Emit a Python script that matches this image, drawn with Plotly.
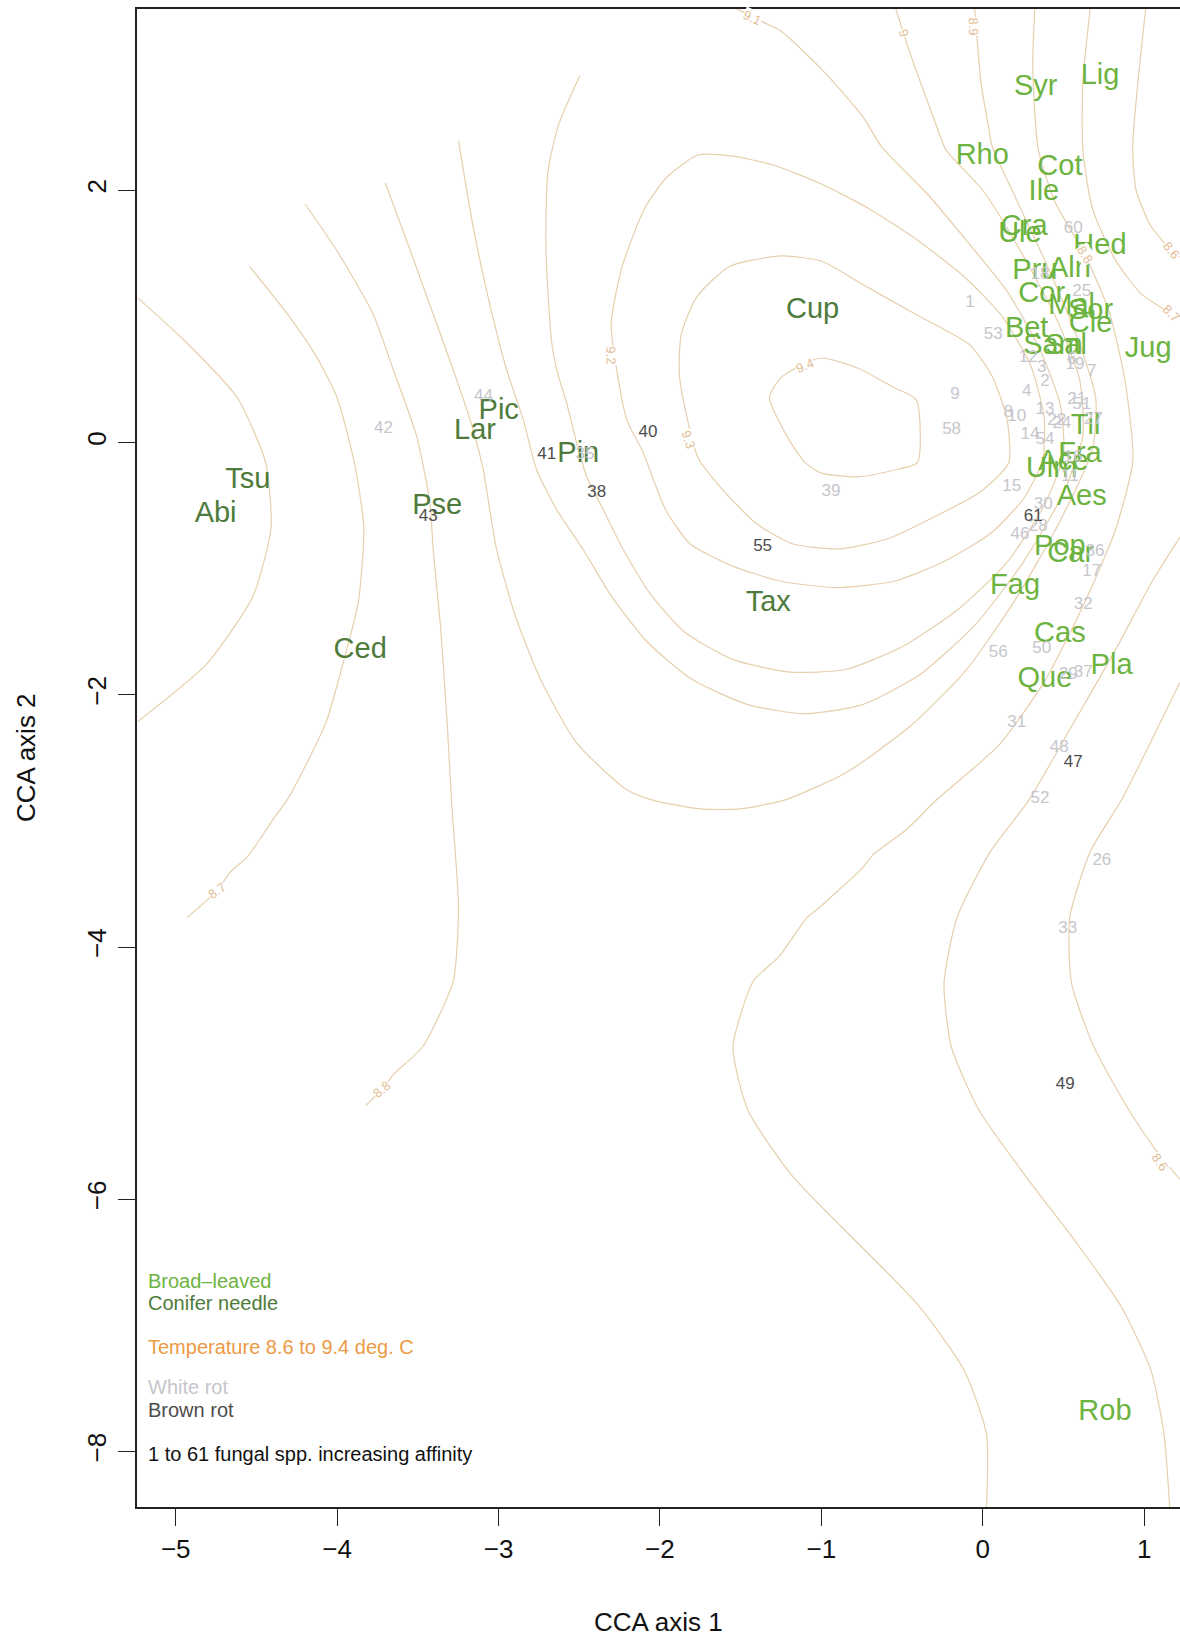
import plotly.graph_objects as go

FONT = "Liberation Sans, Arial, Helvetica, sans-serif"

# ---- host tree genera (CCA scores) ----
broad_labels = ["Syr", "Lig", "Rho", "Cot", "Ile", "Cra", "Ule", "Hed", "Pru", "Aln",
                "Cor", "Mal", "Sor", "Cle", "Bet", "Sam", "Sal", "Jug", "Til", "Fra",
                "Ace", "Ulm", "Aes", "Pop", "Car", "Fag", "Cas", "Que", "Pla", "Rob"]
broad_x = [0.328, 0.727, -0.003, 0.478, 0.379, 0.257, 0.230, 0.726, 0.323, 0.540,
           0.365, 0.551, 0.668, 0.668, 0.272, 0.435, 0.515, 1.025, 0.637, 0.602,
           0.499, 0.427, 0.613, 0.478, 0.545, 0.200, 0.478, 0.385, 0.798, 0.757]
broad_y = [2.814, 2.897, 2.269, 2.177, 1.979, 1.701, 1.648, 1.555, 1.357, 1.370,
           1.172, 1.079, 1.040, 0.934, 0.895, 0.762, 0.762, 0.736, 0.128, -0.097,
           -0.163, -0.216, -0.440, -0.837, -0.890, -1.141, -1.524, -1.881, -1.776, -7.689]

conifer_labels = ["Tsu", "Abi", "Ced", "Pse", "Lar", "Pic", "Pin", "Cup", "Tax"]
conifer_x = [-4.554, -4.753, -3.857, -3.380, -3.146, -2.999, -2.506, -1.054, -1.329]
conifer_y = [-0.305, -0.574, -1.653, -0.507, 0.088, 0.247, -0.097, 1.043, -1.279]

# ---- fungal species (CCA scores) ----
white_labels = ["1", "53", "60", "18", "25", "12", "3", "6", "19", "7", "2", "9", "4",
                "21", "51", "8", "10", "13", "27", "22", "24", "58", "14", "54", "16",
                "11", "15", "30", "28", "46", "36", "17", "32", "56", "50", "29", "37",
                "31", "48", "52", "26", "33", "39", "42", "44", "35"]
white_x = [-0.079, 0.065, 0.561, 0.354, 0.613, 0.282, 0.365, 0.551, 0.571, 0.675, 0.385,
           -0.172, 0.272, 0.582, 0.613, 0.158, 0.210, 0.385, 0.685, 0.458, 0.490, -0.193,
           0.292, 0.385, 0.559, 0.540, 0.179, 0.375, 0.344, 0.230, 0.695, 0.675, 0.623,
           0.096, 0.365, 0.530, 0.623, 0.210, 0.474, 0.354, 0.738, 0.527, -0.940, -3.713,
           -3.093, -2.464]
white_y = [1.106, 0.855, 1.693, 1.331, 1.198, 0.670, 0.591, 0.657, 0.617, 0.564, 0.485,
           0.379, 0.405, 0.339, 0.300, 0.234, 0.207, 0.260, 0.181, 0.170, 0.150, 0.102,
           0.062, 0.022, -0.121, -0.269, -0.348, -0.493, -0.665, -0.731, -0.864, -1.022,
           -1.286, -1.669, -1.638, -1.841, -1.823, -2.224, -2.423, -2.827, -3.318, -3.857,
           -0.388, 0.110, 0.359, -0.097]

brown_labels = ["40", "41", "38", "43", "55", "61", "47", "49"]
brown_x = [-2.074, -2.702, -2.392, -3.436, -1.364, 0.313, 0.561, 0.511]
brown_y = [0.077, -0.097, -0.401, -0.586, -0.823, -0.586, -2.542, -5.089]

# ---- temperature surface isolines (deg. C) ----
iso_94 = [(-1.322, 0.359), (-1.249, 0.516), (-1.134, 0.608), (-0.997, 0.670), (-0.768, 0.587),
          (-0.561, 0.442), (-0.412, 0.338), (-0.405, -0.160), (-0.561, -0.222), (-0.768, -0.272),
          (-0.997, -0.243), (-1.100, -0.160), (-1.203, 0.027), (-1.322, 0.359)]
iso_93 = [(-1.765, -0.118), (-1.879, 0.525), (-1.868, 0.857), (-1.776, 1.147), (-1.570, 1.396),
          (-1.249, 1.479), (-0.997, 1.437), (-0.768, 1.271), (-0.424, 1.022), (-0.080, 0.774),
          (0.058, 0.525), (0.149, 0.193), (0.161, -0.160), (-0.011, -0.388), (-0.309, -0.595),
          (-0.584, -0.761), (-0.882, -0.844), (-1.180, -0.803), (-1.409, -0.637), (-1.616, -0.367),
          (-1.765, -0.118)]
iso_92 = [(-1.765, 2.279), (-1.959, 2.101), (-2.097, 1.852), (-2.234, 1.396), (-2.303, 0.939),
          (-2.268, 0.577), (-2.206, 0.181), (-2.103, -0.083), (-1.965, -0.533), (-1.814, -0.803),
          (-1.55, -0.98), (-1.25, -1.10), (-0.90, -1.15), (-0.55, -1.10), (-0.25, -0.95),
          (0.05, -0.72), (0.25, -0.45), (0.37, -0.15), (0.38, 0.20), (0.30, 0.60), (0.12, 1.00),
          (-0.12, 1.32), (-0.40, 1.60), (-0.70, 1.85), (-1.00, 2.05), (-1.30, 2.20), (-1.55, 2.27),
          (-1.765, 2.279)]
iso_91 = [(-2.496, 2.910), (-2.629, 2.516), (-2.695, 2.142), (-2.706, 1.520), (-2.673, 0.815),
          (-2.640, 0.577), (-2.578, 0.313), (-2.516, -0.004), (-2.454, -0.269), (-2.351, -0.533),
          (-2.227, -0.850), (-2.06, -1.20), (-1.85, -1.50), (-1.55, -1.72), (-1.20, -1.82),
          (-0.85, -1.80), (-0.50, -1.62), (-0.15, -1.32), (0.15, -0.95), (0.38, -0.50),
          (0.50, -0.10), (0.48, 0.30), (0.35, 0.75), (0.15, 1.20), (-0.10, 1.60), (-0.35, 1.98),
          (-0.629, 2.348), (-0.744, 2.586), (-0.996, 2.956), (-1.248, 3.260), (-1.329, 3.313),
          (-1.523, 3.437)]
iso_90 = [(-3.248, 2.391), (-3.160, 1.728), (-3.071, 1.188), (-2.950, 0.577), (-2.847, 0.181),
          (-2.764, -0.216), (-2.640, -0.533), (-2.475, -0.850), (-2.30, -1.22), (-2.08, -1.58),
          (-1.80, -1.88), (-1.45, -2.08), (-1.10, -2.15), (-0.75, -2.08), (-0.40, -1.85),
          (-0.05, -1.45), (0.25, -0.95), (0.50, -0.40), (0.62, 0.05), (0.60, 0.50), (0.45, 1.00),
          (0.22, 1.55), (0.00, 2.00), (-0.229, 2.322), (-0.286, 2.507), (-0.377, 2.824),
          (-0.458, 3.115), (-0.538, 3.437)]
iso_89 = [(-3.702, 2.059), (-3.558, 1.562), (-3.42, 1.07), (-3.281, 0.577), (-3.157, 0.101),
          (-3.095, -0.216), (-3.012, -0.850), (-2.894, -1.383), (-2.739, -1.881), (-2.518, -2.379),
          (-2.208, -2.752), (-2.051, -2.833), (-1.753, -2.905), (-1.501, -2.905), (-1.226, -2.833),
          (-0.85, -2.62), (-0.45, -2.25), (-0.10, -1.80), (0.20, -1.25), (0.48, -0.62),
          (0.68, -0.05), (0.70, 0.35), (0.58, 0.85), (0.40, 1.40), (0.20, 1.95), (0.058, 2.348),
          (0.035, 2.507), (-0.011, 2.851), (-0.033, 3.168), (-0.05, 3.437)]
iso_88_west = [(-4.200, 1.893), (-4.001, 1.520), (-3.779, 1.023), (-3.652, 0.577), (-3.507, 0.048),
               (-3.425, -0.480), (-3.405, -0.850), (-3.359, -1.466), (-3.315, -2.296),
               (-3.292, -2.833), (-3.248, -3.695), (-3.281, -4.270), (-3.470, -4.791),
               (-3.647, -5.006), (-3.724, -5.132), (-3.824, -5.258)]
iso_88_east = [(0.322, 3.437), (0.310, 2.983), (0.344, 2.322), (0.45, 1.90), (0.633, 1.489),
               (0.78, 1.05), (0.88, 0.50), (0.93, -0.14), (0.82, -0.70), (0.62, -1.30),
               (0.38, -1.90), (0.10, -2.40), (-0.286, -2.833), (-0.470, -3.066), (-0.676, -3.264),
               (-0.745, -3.372), (-1.020, -3.695), (-1.089, -3.767), (-1.260, -4.072),
               (-1.421, -4.270), (-1.547, -4.791), (-1.455, -5.294), (-1.180, -5.814),
               (-0.401, -6.838), (-0.114, -7.359), (0.023, -7.862), (0.023, -8.44)]
iso_87_west = [(-4.543, 1.396), (-4.310, 1.022), (-4.133, 0.691), (-4.001, 0.359), (-3.890, -0.180),
               (-3.835, -0.678), (-3.868, -1.259), (-3.956, -1.715), (-4.067, -2.213),
               (-4.222, -2.628), (-4.310, -2.833), (-4.399, -2.992), (-4.554, -3.282),
               (-4.664, -3.408), (-4.742, -3.551), (-4.930, -3.767)]
iso_87_ne = [(0.665, 3.437), (0.620, 2.851), (0.620, 2.322), (0.68, 1.85), (0.82, 1.45),
             (0.98, 1.18), (1.169, 1.022), (1.222, 0.99)]
iso_87_se = [(1.222, -0.75), (1.05, -1.10), (0.82, -1.65), (0.55, -2.25), (0.287, -2.833),
             (0.046, -3.246), (-0.160, -3.767), (-0.240, -4.288), (-0.195, -4.791), (-0.023, -5.294),
             (0.264, -5.814), (0.585, -6.353), (0.860, -6.856), (1.043, -7.359), (1.123, -7.862),
             (1.158, -8.44)]
iso_86_west = [(-5.235, 1.147), (-4.952, 0.815), (-4.620, 0.359), (-4.443, -0.160), (-4.410, -0.678),
               (-4.521, -1.217), (-4.808, -1.756), (-5.235, -2.213)]
iso_86_ne = [(1.009, 3.437), (0.929, 2.348), (0.95, 2.00), (1.04, 1.72), (1.169, 1.52), (1.222, 1.47)]
iso_86_se = [(1.222, -1.90), (1.05, -2.35), (0.860, -2.833), (0.665, -3.246), (0.539, -3.767),
             (0.550, -4.288), (0.688, -4.791), (0.906, -5.294), (1.066, -5.599), (1.203, -5.814),
             (1.222, -5.84)]

isolines = [iso_94, iso_93, iso_92, iso_91, iso_90, iso_89, iso_88_west, iso_88_east,
            iso_87_west, iso_87_ne, iso_87_se, iso_86_west, iso_86_ne, iso_86_se]

# isoline labels: text, x, y, angle
iso_label_text = ["9.4", "9.3", "9.2", "9.1", "9", "8.9", "8.8", "8.6", "8.7", "8.7", "8.8", "8.6"]
iso_label_x = [-1.100, -1.822, -2.303, -1.432, -0.492, -0.056, 0.633, 1.169, 1.169, -4.742, -3.724, 1.100]
iso_label_y = [0.608, 0.027, 0.690, 3.366, 3.247, 3.300, 1.489, 1.520, 1.022, -3.551, -5.132, -5.707]
iso_label_angle = [-22, 72, 88, 25, 72, 88, 58, 50, 45, -35, -40, 55]

# legend lines
legend_text = ["Broad\u2013leaved", "Conifer needle", "Temperature 8.6 to 9.4 deg. C",
               "White rot", "Brown rot", "1 to 61 fungal spp. increasing affinity"]
legend_y = [-6.645, -6.819, -7.173, -7.490, -7.670, -8.019]
legend_x = -5.185

C_BROAD = "#6db33f"
C_CONIFER = "#4e7b3b"
C_ISO = "#e6cfad"
C_ISO_LABEL = "#e3bd94"
C_TEMP = "#eb9a45"
C_WHITE = "#c6c6cc"
C_BROWN = "#4d4d4d"
legend_colors = [C_BROAD, C_CONIFER, C_TEMP, C_WHITE, C_BROWN, "#111111"]

fig = go.Figure()

for line in isolines:
    fig.add_trace(go.Scatter(
        x=[p[0] for p in line], y=[p[1] for p in line], mode="lines",
        line=dict(color=C_ISO, width=1.2, shape="spline", smoothing=0.6),
        hoverinfo="skip", showlegend=False, cliponaxis=True))

fig.add_trace(go.Scatter(x=broad_x, y=broad_y, text=broad_labels, mode="text",
                         textfont=dict(family=FONT, size=29, color=C_BROAD),
                         showlegend=False, hoverinfo="text"))
fig.add_trace(go.Scatter(x=conifer_x, y=conifer_y, text=conifer_labels, mode="text",
                         textfont=dict(family=FONT, size=29, color=C_CONIFER),
                         showlegend=False, hoverinfo="text"))
fig.add_trace(go.Scatter(x=white_x, y=white_y, text=white_labels, mode="text",
                         textfont=dict(family=FONT, size=17, color=C_WHITE),
                         showlegend=False, hoverinfo="text"))
fig.add_trace(go.Scatter(x=brown_x, y=brown_y, text=brown_labels, mode="text",
                         textfont=dict(family=FONT, size=17, color=C_BROWN),
                         showlegend=False, hoverinfo="text"))

annotations = []
for t, x, y, a in zip(iso_label_text, iso_label_x, iso_label_y, iso_label_angle):
    annotations.append(dict(x=x, y=y, xref="x", yref="y", text=t, showarrow=False,
                            textangle=a, bgcolor="white", borderpad=0,
                            font=dict(family=FONT, size=13, color=C_ISO_LABEL)))
for t, y, c in zip(legend_text, legend_y, legend_colors):
    annotations.append(dict(x=legend_x, y=y, xref="x", yref="y", text=t, showarrow=False,
                            xanchor="left", yanchor="middle",
                            font=dict(family=FONT, size=20, color=c)))
annotations.append(dict(x=0.5, y=-0.0768, xref="paper", yref="paper", text="CCA axis 1",
                        showarrow=False, xanchor="center", yanchor="middle",
                        font=dict(family=FONT, size=26, color="#111111")))
annotations.append(dict(x=-0.1064, y=0.5, xref="paper", yref="paper", text="CCA axis 2",
                        showarrow=False, xanchor="center", yanchor="middle", textangle=-90,
                        font=dict(family=FONT, size=26, color="#111111")))

fig.update_layout(
    width=1180, height=1639,
    margin=dict(l=137, r=0, t=9, b=132),
    paper_bgcolor="white", plot_bgcolor="white",
    font=dict(family=FONT, color="#111111"),
    annotations=annotations,
    xaxis=dict(range=[-5.240, 1.222], tickvals=[-5, -4, -3, -2, -1, 0, 1],
               ticks="outside", ticklen=17, tickwidth=1.3, tickcolor="#222222",
               showline=True, linecolor="#222222", linewidth=1.6, mirror=True,
               showgrid=False, zeroline=False, tickfont=dict(size=26, color="#111111"),
               ticklabelstandoff=1),
    yaxis=dict(range=[-8.44, 3.437], tickvals=[-8, -6, -4, -2, 0, 2], tickangle=-90,
               ticks="outside", ticklen=17, tickwidth=1.3, tickcolor="#222222",
               showline=True, linecolor="#222222", linewidth=1.6, mirror=False,
               showgrid=False, zeroline=False, tickfont=dict(size=26, color="#111111"),
               ticklabelstandoff=2),
)

fig.write_html("out.html")
